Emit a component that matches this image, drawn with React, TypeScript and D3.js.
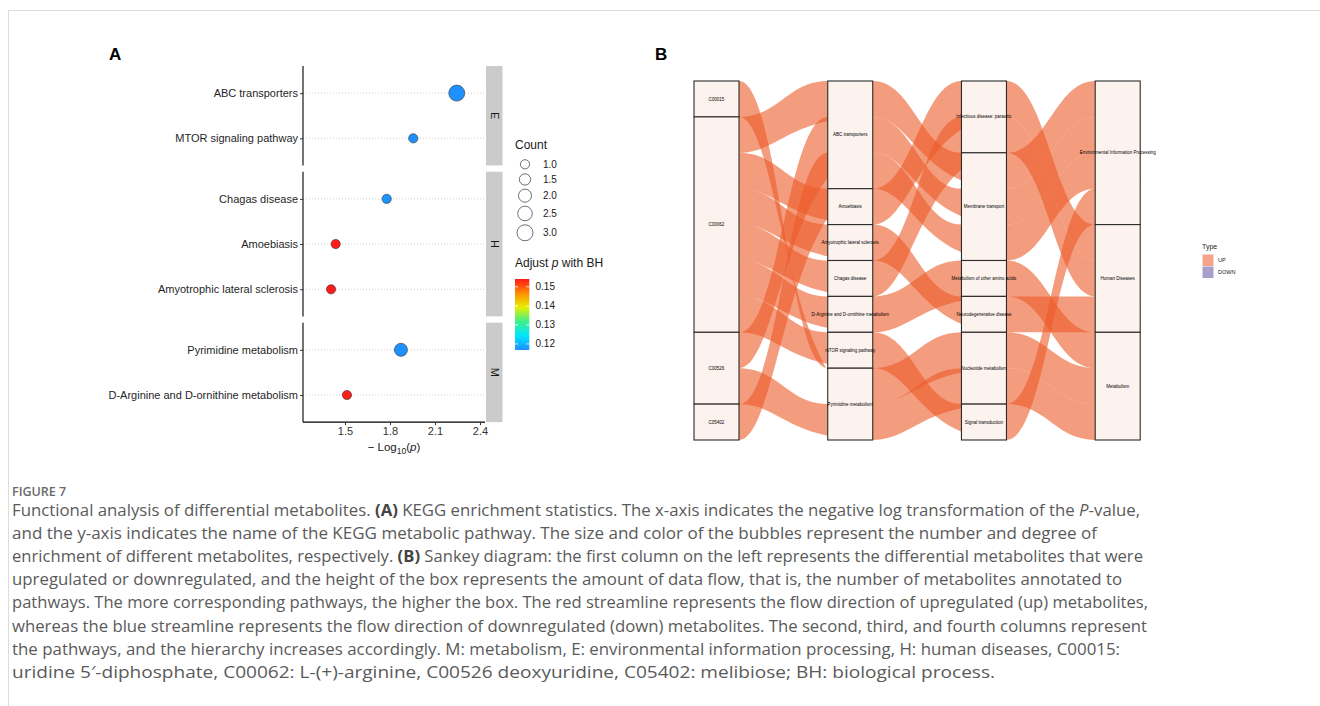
import React, { useEffect, useRef } from "react";
import * as d3 from "d3";

// ---- panel A: KEGG enrichment bubbles
const pathwayNames = [
  "ABC transporters",
  "MTOR signaling pathway",
  "Chagas disease",
  "Amoebiasis",
  "Amyotrophic lateral sclerosis",
  "Pyrimidine metabolism",
  "D-Arginine and D-ornithine metabolism",
];
const pathwayGroup = ["E", "E", "H", "H", "H", "M", "M"];
const negLogP = [2.245, 1.955, 1.778, 1.438, 1.407, 1.873, 1.513];
const hitCount = [3, 1, 1, 1, 1, 2, 1];
const adjP = [0.1168, 0.117, 0.1172, 0.154, 0.1541, 0.1169, 0.1538];
const groupOrder = ["E", "H", "M"];
const xTicks = [1.5, 1.8, 2.1, 2.4];
const countTicks = [1.0, 1.5, 2.0, 2.5, 3.0];
const adjTicks = [0.12, 0.13, 0.14, 0.15];

// ---- panel B: sankey, one entry per alluvium
const flowCompound = ["C00015", "C00062", "C00062", "C00062", "C00062", "C00062", "C00062", "C00526", "C00526", "C05402"];
const flowPathway = [
  "Pyrimidine metabolism", "ABC transporters", "Amoebiasis", "Amyotrophic lateral sclerosis", "Chagas disease",
  "D-Arginine and D-ornithine metabolism", "mTOR signaling pathway", "ABC transporters", "Pyrimidine metabolism", "ABC transporters",
];
const flowClass = [
  "Nucleotide metabolism", "Membrane transport", "Infectious disease: parasitic", "Neurodegenerative disease", "Infectious disease: parasitic",
  "Metabolism of other amino acids", "Signal transduction", "Membrane transport", "Nucleotide metabolism", "Membrane transport",
];
const flowCategory = [
  "Metabolism", "Environmental Information Processing", "Human Diseases", "Human Diseases", "Human Diseases",
  "Metabolism", "Environmental Information Processing", "Environmental Information Processing", "Metabolism", "Environmental Information Processing",
];
const flowType = ["UP", "UP", "UP", "UP", "UP", "UP", "UP", "UP", "UP", "UP"];
const compoundOrder = ["C00015", "C00062", "C00526", "C05402"];
const pathwayOrder = [
  "ABC transporters", "Amoebiasis", "Amyotrophic lateral sclerosis", "Chagas disease",
  "D-Arginine and D-ornithine metabolism", "mTOR signaling pathway", "Pyrimidine metabolism",
];
const classOrder = [
  "Infectious disease: parasitic", "Membrane transport", "Metabolism of other amino acids",
  "Neurodegenerative disease", "Nucleotide metabolism", "Signal transduction",
];
const categoryOrder = ["Environmental Information Processing", "Human Diseases", "Metabolism"];
const typeLevels = ["UP", "DOWN"];

const captionLines = [
  "Functional analysis of differential metabolites. **(A)** KEGG enrichment statistics. The x-axis indicates the negative log transformation of the _P_-value,",
  "and the y-axis indicates the name of the KEGG metabolic pathway. The size and color of the bubbles represent the number and degree of",
  "enrichment of different metabolites, respectively. **(B)** Sankey diagram: the first column on the left represents the differential metabolites that were",
  "upregulated or downregulated, and the height of the box represents the amount of data flow, that is, the number of metabolites annotated to",
  "pathways. The more corresponding pathways, the higher the box. The red streamline represents the flow direction of upregulated (up) metabolites,",
  "whereas the blue streamline represents the flow direction of downregulated (down) metabolites. The second, third, and fourth columns represent",
  "the pathways, and the hierarchy increases accordingly. M: metabolism, E: environmental information processing, H: human diseases, C00015:",
  "uridine 5\u2032-diphosphate, C00062: L-(+)-arginine, C00526 deoxyuridine, C05402: melibiose; BH: biological process.",
];
// right edge of each caption line (layout)
const captionEnds = [1140, 1097, 1143, 1122, 1148, 1147, 1120, 995];

const W = 1320, H = 706;

// ggalluvial-style zigzag lode guidance
function zigzag(k: number, m: number) {
  const out: number[] = [];
  let lo = k - 1, hi = k + 1;
  let down = k <= (m - 1) / 2;
  while (lo >= 0 || hi < m) {
    if (down && lo >= 0) out.push(lo--);
    else if (!down && hi < m) out.push(hi++);
    else if (lo >= 0) out.push(lo--);
    else out.push(hi++);
    down = !down;
  }
  return out;
}

export default function App() {
  const ref = useRef<SVGSVGElement>(null);

  useEffect(() => {
    document.body.style.margin = "0";
    const svg = d3.select(ref.current);
    svg.selectAll("*").remove();
    const sans = "'Liberation Sans', Arial, Helvetica, sans-serif";

    // page frame
    svg.append("line").attr("x1", 8).attr("x2", W).attr("y1", 10.5).attr("y2", 10.5).attr("stroke", "#dcdcdc");
    svg.append("line").attr("x1", 8.5).attr("x2", 8.5).attr("y1", 10).attr("y2", H).attr("stroke", "#dcdcdc");

    // ================= panel A
    const A = svg.append("g").attr("font-family", sans);
    A.append("text").attr("x", 109).attr("y", 60).attr("font-weight", "bold").attr("font-size", 17).text("A");

    const left = 303, right = 485;
    const x = d3.scaleLinear().domain([1.22, 2.4333]).range([left, right]);
    const r = d3.scaleSqrt().domain([0, 3]).range([0, 8]);
    const [pMin, pMax] = d3.extent(adjP) as [number, number];
    const stops = ["#1E90FF", "#00E5FF", "#3CF08C", "#E6F000", "#FF8C00", "#FF1A1A"];
    const color = d3.scaleLinear<string>()
      .domain(stops.map((_, i) => pMin + ((pMax - pMin) * i) / (stops.length - 1)))
      .range(stops)
      .interpolate(d3.interpolateRgb);

    const unit = 45.2, gap = 6.3;
    let top = 66;
    groupOrder.forEach((g, gi) => {
      const idx = pathwayNames.map((_, i) => i).filter(i => pathwayGroup[i] === g);
      const h = (idx.length - 1 + 1.2) * unit;
      const y = d3.scalePoint<string>().domain(idx.map(i => pathwayNames[i])).range([top, top + h]).padding(0.6);
      const p = A.append("g");

      p.selectAll("line.grid").data(idx).enter().append("line")
        .attr("x1", left).attr("x2", right)
        .attr("y1", i => y(pathwayNames[i])!).attr("y2", i => y(pathwayNames[i])!)
        .attr("stroke", "#c4c4c4").attr("stroke-width", 0.8).attr("stroke-dasharray", "1,2");

      p.append("g").attr("transform", `translate(${left},0)`)
        .call(d3.axisLeft(y).tickSize(3).tickPadding(2))
        .call(s => s.select(".domain").attr("stroke", "#000").attr("stroke-width", 1.1).attr("d", `M0,${top}V${top + h}`))
        .call(s => s.selectAll(".tick line").attr("stroke", "#333"))
        .call(s => s.selectAll(".tick text").attr("font-size", 11).attr("fill", "#1f1f1f").attr("font-family", sans));

      // strip
      p.append("rect").attr("x", right + 1).attr("y", top).attr("width", 16.5).attr("height", h).attr("fill", "#cbcbcb");
      p.append("text")
        .attr("transform", `translate(${right + 9.5},${top + h / 2}) rotate(90)`)
        .attr("text-anchor", "middle").attr("dy", "0.35em")
        .attr("font-size", 11).attr("fill", "#1a1a1a").text(g);

      p.selectAll("circle").data(idx).enter().append("circle")
        .attr("cx", i => x(negLogP[i])).attr("cy", i => y(pathwayNames[i])!)
        .attr("r", i => r(hitCount[i]))
        .attr("fill", i => color(adjP[i])).attr("stroke", "#333").attr("stroke-width", 0.6);

      if (gi === groupOrder.length - 1) {
        p.append("g").attr("transform", `translate(0,${top + h})`)
          .call(d3.axisBottom(x).tickValues(xTicks).tickFormat(d3.format(".1f")).tickSize(3).tickPadding(2))
          .call(s => s.select(".domain").attr("stroke", "#000").attr("stroke-width", 1.1).attr("d", `M${left},0H${right}`))
          .call(s => s.selectAll(".tick line").attr("stroke", "#333"))
          .call(s => s.selectAll(".tick text").attr("font-size", 11).attr("fill", "#333").attr("font-family", sans));
        const t = A.append("text").attr("x", (left + right) / 2).attr("y", top + h + 29)
          .attr("text-anchor", "middle").attr("font-size", 11.5).attr("fill", "#1a1a1a");
        t.append("tspan").text("\u2212 Log");
        t.append("tspan").attr("font-size", 8.5).attr("dy", 3).text("10");
        t.append("tspan").attr("dy", -3).text("(");
        t.append("tspan").attr("font-style", "italic").text("p");
        t.append("tspan").text(")");
      }
      top += h + gap;
    });

    // size legend
    const lg = A.append("g");
    lg.append("text").attr("x", 515).attr("y", 149).attr("font-size", 12).attr("fill", "#1a1a1a").text("Count");
    let cy = 164.3, prevH = 0;
    countTicks.forEach((c, i) => {
      const kh = Math.max(15, 2 * r(c) + 4);
      if (i > 0) cy += (prevH + kh) / 2;
      prevH = kh;
      lg.append("circle").attr("cx", 525).attr("cy", cy).attr("r", r(c)).attr("fill", "none").attr("stroke", "#333").attr("stroke-width", 0.7);
      lg.append("text").attr("x", 543).attr("y", cy).attr("dy", "0.35em").attr("font-size", 10).attr("fill", "#1a1a1a").text(c.toFixed(1));
    });

    // colour bar
    const ct = lg.append("text").attr("x", 515).attr("y", 267).attr("font-size", 12).attr("fill", "#1a1a1a");
    ct.append("tspan").text("Adjust ");
    ct.append("tspan").attr("font-style", "italic").text("p");
    ct.append("tspan").text(" with BH");
    const barY = d3.scaleLinear().domain([pMin, pMax]).range([350, 279]);
    const grad = svg.append("defs").append("linearGradient").attr("id", "padjGrad")
      .attr("x1", 0).attr("y1", 1).attr("x2", 0).attr("y2", 0);
    stops.forEach((s, i) => grad.append("stop").attr("offset", i / (stops.length - 1)).attr("stop-color", s));
    lg.append("rect").attr("x", 515).attr("y", barY(pMax)).attr("width", 14.3).attr("height", barY(pMin) - barY(pMax)).attr("fill", "url(#padjGrad)");
    adjTicks.forEach(v => {
      lg.append("line").attr("x1", 515).attr("x2", 518).attr("y1", barY(v)).attr("y2", barY(v)).attr("stroke", "#fff").attr("stroke-width", 0.8);
      lg.append("line").attr("x1", 526.3).attr("x2", 529.3).attr("y1", barY(v)).attr("y2", barY(v)).attr("stroke", "#fff").attr("stroke-width", 0.8);
      lg.append("text").attr("x", 535.5).attr("y", barY(v)).attr("dy", "0.35em").attr("font-size", 10).attr("fill", "#1a1a1a").text(v.toFixed(2));
    });

    // ================= panel B
    const B = svg.append("g").attr("font-family", sans);
    B.append("text").attr("x", 655).attr("y", 60).attr("font-weight", "bold").attr("font-size", 17).text("B");

    const axes = [flowCompound, flowPathway, flowClass, flowCategory];
    const orders = [compoundOrder, pathwayOrder, classOrder, categoryOrder];
    const n = flowCompound.length;
    const m = axes.length;
    const boxW = 45;
    const ax = d3.scalePoint<number>().domain(d3.range(m)).range([716.5, 1117.7]);
    const yy = d3.scaleLinear().domain([0, n]).range([81, 440]);
    const fill = d3.scaleOrdinal<string, string>().domain(typeLevels).range(["#EC5A28", "#5E4FA2"]);

    // lode positions (in units) per axis
    const lodeTop: number[][] = axes.map(() => new Array(n).fill(0));
    const strata: { k: number; name: string; y0: number; y1: number }[] = [];
    axes.forEach((vals, k) => {
      const rank = (kk: number, i: number) => orders[kk].indexOf(axes[kk][i]);
      const guide = zigzag(k, m);
      const sorted = d3.range(n).sort((a, b) => {
        if (rank(k, a) !== rank(k, b)) return rank(k, a) - rank(k, b);
        for (const kk of guide) if (rank(kk, a) !== rank(kk, b)) return rank(kk, a) - rank(kk, b);
        return a - b;
      });
      sorted.forEach((i, pos) => (lodeTop[k][i] = pos));
      let acc = 0;
      orders[k].forEach(name => {
        const c = vals.filter(v => v === name).length;
        strata.push({ k, name, y0: acc, y1: acc + c });
        acc += c;
      });
    });

    const bez = 0.45;
    const ribbon = (i: number) => {
      let d = "";
      for (let k = 0; k < m - 1; k++) {
        const x0 = ax(k)! + boxW / 2, x1 = ax(k + 1)! - boxW / 2, dx = x1 - x0;
        const a = yy(lodeTop[k][i]), b = yy(lodeTop[k + 1][i]);
        if (k === 0) d += `M${x0 - boxW},${a}H${x0}`;
        d += `C${x0 + dx * bez},${a} ${x1 - dx * bez},${b} ${x1},${b}H${x1 + boxW}`;
      }
      for (let k = m - 1; k > 0; k--) {
        const x1 = ax(k)! - boxW / 2, x0 = ax(k - 1)! + boxW / 2, dx = x1 - x0;
        const b = yy(lodeTop[k][i] + 1), a = yy(lodeTop[k - 1][i] + 1);
        if (k === m - 1) d += `V${b}H${x1}`;
        d += `C${x1 - dx * bez},${b} ${x0 + dx * bez},${a} ${x0},${a}`;
      }
      d += `H${ax(0)! - boxW / 2}Z`;
      return d;
    };

    B.selectAll("path.flow").data(d3.range(n)).enter().append("path")
      .attr("d", i => ribbon(i))
      .attr("fill", i => fill(flowType[i])).attr("fill-opacity", 0.6).attr("stroke", "none");

    B.selectAll("rect.stratum").data(strata).enter().append("rect")
      .attr("x", s => ax(s.k)! - boxW / 2).attr("y", s => yy(s.y0))
      .attr("width", boxW).attr("height", s => yy(s.y1) - yy(s.y0))
      .attr("fill", "#FCF3EF").attr("stroke", "#2b2b2b").attr("stroke-width", 1.1);

    B.selectAll("text.stratum").data(strata).enter().append("text")
      .attr("x", s => ax(s.k)!).attr("y", s => yy((s.y0 + s.y1) / 2)).attr("dy", "0.35em")
      .attr("text-anchor", "middle").attr("font-size", 4.5).attr("fill", "#000").text(s => s.name);

    // type legend
    B.append("text").attr("x", 1202).attr("y", 248.5).attr("font-size", 7).attr("fill", "#1a1a1a").text("Type");
    typeLevels.forEach((t, i) => {
      B.append("rect").attr("x", 1202.5).attr("y", 254.5 + i * 12).attr("width", 11).attr("height", 11.5)
        .attr("fill", fill(t)).attr("fill-opacity", 0.55);
      B.append("text").attr("x", 1218).attr("y", 260.3 + i * 12).attr("dy", "0.35em").attr("font-size", 5.5).attr("fill", "#1a1a1a").text(t);
    });

    // ================= caption
    const cap = svg.append("g").attr("font-family", "'Open Sans', Lato, sans-serif").attr("fill", "#5a5a5a");
    cap.append("text").attr("x", 12).attr("y", 496).attr("font-size", 12.5).attr("font-weight", 600).attr("fill", "#6a6a6a").text("FIGURE 7");
    captionLines.forEach((line, i) => {
      const t = cap.append("text").attr("x", 12).attr("y", 516 + i * 23.1).attr("font-size", 15.5)
        .attr("textLength", captionEnds[i] - 12).attr("lengthAdjust", "spacingAndGlyphs");
      line.split(/(\*\*[^*]+\*\*|_[^_]+_)/).filter(Boolean).forEach(seg => {
        if (seg.startsWith("**")) t.append("tspan").attr("font-weight", "bold").attr("fill", "#444").text(seg.slice(2, -2));
        else if (seg.startsWith("_")) t.append("tspan").attr("font-style", "italic").text(seg.slice(1, -1));
        else t.append("tspan").text(seg);
      });
    });
  }, []);

  return (
    <div style={{ position: "absolute", left: 0, top: 0 }}>
      <svg ref={ref} width={W} height={H} style={{ display: "block", background: "#fff" }}></svg>
    </div>
  );
}
